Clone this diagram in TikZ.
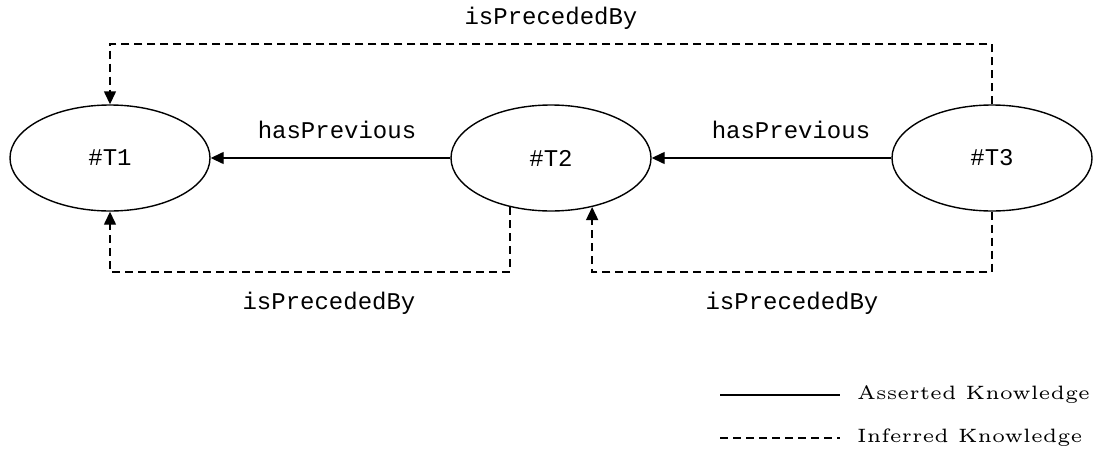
\documentclass[tikz,border=0pt]{standalone}
\usepackage{fontspec}
\newfontfamily\monofont{Liberation Mono}
\usetikzlibrary{arrows.meta,shapes.geometric}
\tikzset{
  ent/.style={ellipse,draw,line width=1.4pt,minimum width=200pt,minimum height=106pt,inner sep=0pt,font=\monofont\fontsize{24}{28}\selectfont},
  lbl/.style={font=\monofont\fontsize{24}{28}\selectfont,inner sep=0pt},
  asr/.style={line width=1.4pt,-{Triangle[length=13pt,width=12pt]}},
  inf/.style={line width=1.4pt,dash pattern=on 8pt off 5pt,-{Triangle[length=13pt,width=12pt]}},
  leg/.style={anchor=west,inner sep=0pt},
}
\begin{document}
\begin{tikzpicture}[x=1pt,y=-1pt]
\useasboundingbox (0,0) rectangle (1097,450);
\node[ent] (t1) at (110,158) {\#T1};
\node[ent] (t2) at (551,158) {\#T2};
\node[ent] (t3) at (992,158) {\#T3};
\coordinate (top) at (0,44);
\coordinate (bot) at (0,272);
\draw[asr] (t2.west) -- (t1.east);
\draw[asr] (t3.west) -- (t2.east);
\draw[inf] (t3.north) -- (t3.north |- top) -| (t1.north);
\draw[inf] (t2.230.5) -- (t2.230.5 |- bot) -| (t1.south);
\draw[inf] (t3.south) -- (t3.south |- bot) -| (t2.310.3);
\node[lbl] (l1) at (551,18) {isPrecededBy};
\node[lbl] (l2) at (337,130) {hasPrevious};
\node[lbl] (l3) at (791,130) {hasPrevious};
\node[lbl] (l4) at (329,303) {isPrecededBy};
\node[lbl] (l5) at (792,303) {isPrecededBy};
\coordinate (a1) at (720,395);
\coordinate (a2) at (840,395);
\coordinate (b1) at (720,438);
\coordinate (b2) at (840,438);
\draw[line width=1.4pt] (a1) -- (a2);
\draw[line width=1.4pt,dash pattern=on 8pt off 5pt] (b1) -- (b2);
\node[leg] (la) at (857,395) {\scalebox{3.87}{\fontsize{5}{6}\selectfont Asserted Knowledge}};
\node[leg] (lb) at (857,438) {\scalebox{3.87}{\fontsize{5}{6}\selectfont Inferred Knowledge}};
\end{tikzpicture}
\end{document}
